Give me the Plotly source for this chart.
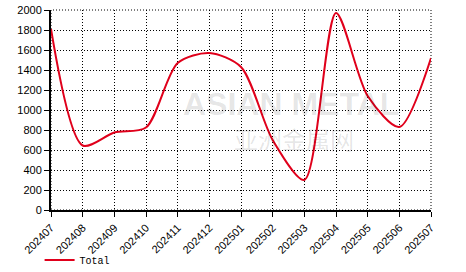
import plotly.graph_objects as go

months = ["202407","202408","202409","202410","202411","202412","202501",
          "202502","202503","202504","202505","202506","202507"]
total = [1810, 645, 775, 825, 1470, 1570, 1430, 700, 300, 1970, 1140, 830, 1520]
y_ticks = [0, 200, 400, 600, 800, 1000, 1200, 1400, 1600, 1800, 2000]

fig = go.Figure()
fig.add_annotation(x=0.5, y=0.5, xref="paper", yref="paper", text="<b>ASIAN METAL</b>",
                   showarrow=False, font=dict(family="Liberation Sans", size=32, color="rgba(0,0,0,0.11)"),
                   xanchor="center", yanchor="middle", xshift=50, yshift=6)
fig.add_annotation(x=0.5, y=0.5, xref="paper", yref="paper", text="亚洲金属网",
                   showarrow=False, font=dict(family="Noto Sans CJK SC", size=24, color="rgba(0,0,0,0.11)"),
                   xanchor="center", yanchor="middle", xshift=53, yshift=-28)
fig.add_trace(go.Scatter(
    x=list(range(len(months))), y=total, mode="lines", name="Total",
    line=dict(color="#e0001b", width=2, shape="spline", smoothing=0.8),
))

fig.update_layout(
    width=466, height=272,
    margin=dict(l=51, r=35, t=10, b=62, autoexpand=False),
    paper_bgcolor="white", plot_bgcolor="white",
    showlegend=True,
    legend=dict(orientation="h", x=-0.03, y=-0.25, xanchor="left", yanchor="middle",
                font=dict(family="Liberation Mono", size=10, color="#000"),
                bgcolor="rgba(0,0,0,0)"),
    font=dict(family="Liberation Sans", size=11, color="#000"),
)
fig.update_xaxes(
    range=[0, len(months) - 1], tickmode="array", automargin=False,
    tickvals=list(range(len(months))), ticktext=months, tickangle=-45,
    showgrid=True, gridcolor="#000", griddash="1px,2px", gridwidth=1,
    showline=True, linecolor="#000", linewidth=2, mirror=False,
    ticks="outside", ticklen=5, tickcolor="#000", zeroline=False,
    tickfont=dict(size=11),
)
fig.update_yaxes(
    range=[0, 2000], tickmode="array", tickvals=y_ticks, automargin=False,
    showgrid=True, gridcolor="#000", griddash="1px,2px", gridwidth=1,
    showline=True, linecolor="#000", linewidth=2,
    ticks="outside", ticklen=5, tickcolor="#000", zeroline=False,
    tickfont=dict(size=11),
)
fig.add_shape(type="rect", xref="paper", yref="paper", x0=0, y0=0, x1=1, y1=1,
              line=dict(color="#000", width=1, dash="1px,2px"), layer="below")
fig.write_html("out.html")
